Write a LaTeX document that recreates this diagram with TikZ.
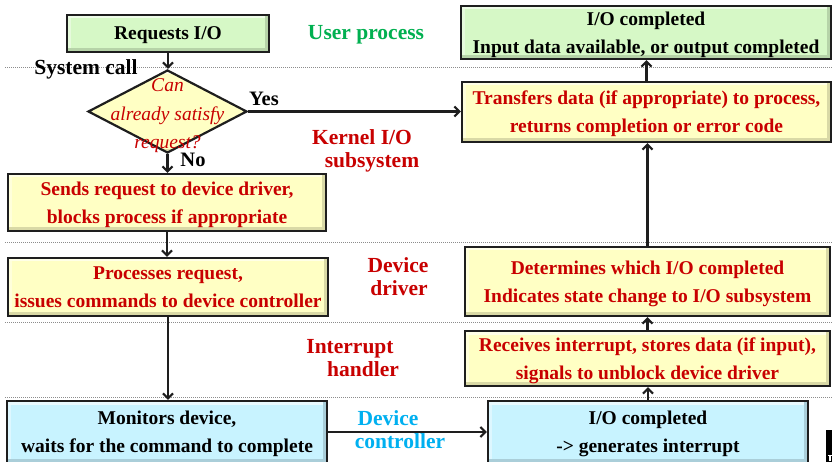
\documentclass[tikz,border=0pt]{standalone}
\usepackage{fontspec}
\setmainfont{Liberation Serif}
\usetikzlibrary{arrows.meta,shapes.geometric}

\definecolor{boxgreen}{HTML}{D6F8C6}
\definecolor{boxyellow}{HTML}{FFFFC4}
\definecolor{boxcyan}{HTML}{C8F3FF}
\definecolor{txtred}{HTML}{C80000}
\definecolor{txtgreen}{HTML}{00B050}
\definecolor{txtblue}{HTML}{00B0F0}
\definecolor{edge}{HTML}{1E1E1E}
\definecolor{rule}{HTML}{8C8C8C}

\tikzset{
  bevel/.style={path picture={
    \fill[black,opacity=.15] (path picture bounding box.south west) rectangle ([yshift=4pt]path picture bounding box.south east);
    \fill[black,opacity=.15] ([xshift=-4pt,yshift=4pt]path picture bounding box.south east) rectangle (path picture bounding box.north east);
    \fill[white,opacity=.6] ([yshift=-3.5pt]path picture bounding box.north west) rectangle ([xshift=-4pt]path picture bounding box.north east);
    \fill[white,opacity=.4] ([yshift=4pt]path picture bounding box.south west) rectangle ([xshift=3.5pt,yshift=-3.5pt]path picture bounding box.north west);
  }},
  box/.style={draw=edge, line width=2.2pt, fill=#1, bevel, inner sep=0pt, align=center,
    text depth=0pt, font=\fontsize{19.5}{28}\selectfont\bfseries},
  greenbox/.style={box=boxgreen, text=black},
  yellowbox/.style={box=boxyellow, text=txtred},
  cyanbox/.style={box=boxcyan, text=black},
  lab/.style={inner sep=0pt, text depth=0pt, font=\fontsize{21.5}{23}\selectfont\bfseries},
  small/.style={inner sep=0pt, text depth=0pt, font=\fontsize{20.5}{23}\selectfont\bfseries},
  arr/.style={draw=edge, line width=2.2pt, -{Straight Barb[length=5pt,width=10pt,line width=2.2pt]}},
  layer/.style={draw=rule, line width=0.9pt, dash pattern=on 1pt off 1pt},
}

\begin{document}
\begin{tikzpicture}[x=1pt, y=-1pt]
  \useasboundingbox[fill=white] (0,0) rectangle (832,462);

  % layer separators
  \coordinate (l1a) at (5,67);   \coordinate (l1b) at (832,67);
  \coordinate (l2a) at (5,242);  \coordinate (l2b) at (832,242);
  \coordinate (l3a) at (5,322);  \coordinate (l3b) at (832,322);
  \coordinate (l4a) at (5,397);  \coordinate (l4b) at (832,397);
  \draw[layer] (l1a) -- (l1b);
  \draw[layer] (l2a) -- (l2b);
  \draw[layer] (l3a) -- (l3b);
  \draw[layer] (l4a) -- (l4b);

  % left column: request path
  \node[greenbox, minimum width=202pt, minimum height=37pt] (req) at (168,33.5) {Requests I/O};
  \node[diamond, draw=edge, line width=2.2pt, fill=boxyellow, bevel, inner sep=0pt,
        minimum width=159pt, minimum height=83pt] (dec) at (167.5,111.5) {};
  \node[inner sep=0pt, align=center, text depth=0pt, text=txtred,
        font=\fontsize{19.5}{28.5}\selectfont\itshape] (dectext) at (167.5,114) {Can\\already satisfy\\request?};
  \node[yellowbox, minimum width=318pt, minimum height=57pt] (send) at (167,202.5)
    {Sends request to device driver,\\blocks process if appropriate};
  \node[yellowbox, minimum width=320pt, minimum height=58pt] (proc) at (168,287)
    {Processes request,\\issues commands to device controller};
  \node[cyanbox, minimum width=320pt, minimum height=62pt] (mon) at (167,432)
    {Monitors device,\\waits for the command to complete};

  % right column: completion path
  \node[cyanbox, minimum width=320pt, minimum height=62pt] (iobot) at (648,432)
    {I/O completed\\-> generates interrupt};
  \node[yellowbox, minimum width=365pt, minimum height=55pt] (recv) at (647.5,358.5)
    {Receives interrupt, stores data (if input),\\signals to unblock device driver};
  \node[yellowbox, minimum width=365pt, minimum height=69pt] (det) at (647.5,281.5)
    {Determines which I/O completed\\Indicates state change to I/O subsystem};
  \node[yellowbox, minimum width=369pt, minimum height=60pt] (xfer) at (646.5,112)
    {Transfers data (if appropriate) to process,\\returns completion or error code};
  \node[greenbox, minimum width=370pt, minimum height=53pt] (iotop) at (646,32.5)
    {I/O completed\\Input data available, or output completed};

  % layer labels
  \node[lab, text=txtgreen] (lUser) at (366,32) {User process};
  \node[lab, text=black] (lSys) at (86,67) {System call};
  \node[small, text=black] (lYes) at (264,99) {Yes};
  \node[small, text=black] (lNo) at (193,160) {No};
  \node[lab, text=txtred] (lKern1) at (362,137) {Kernel I/O};
  \node[lab, text=txtred] (lKern2) at (372,160) {subsystem};
  \node[lab, text=txtred] (lDrv1) at (398,265) {Device};
  \node[lab, text=txtred] (lDrv2) at (399,288) {driver};
  \node[lab, text=txtred] (lInt1) at (350,346) {Interrupt};
  \node[lab, text=txtred] (lInt2) at (363,369) {handler};
  \node[lab, text=txtblue] (lCtl1) at (388,418) {Device};
  \node[lab, text=txtblue] (lCtl2) at (400,441) {controller};

  % connectors
  \draw[arr] (req.south) -- (req.south |- dec.north);
  \draw[arr] (dec.south) -- (dec.south |- send.north);
  \draw[arr] (dec.east) -- (dec.east -| xfer.west);
  \draw[arr] (send.south) -- (send.south |- proc.north);
  \draw[arr] (proc.south) -- (proc.south |- mon.north);
  \draw[arr] (mon.east) -- (mon.east -| iobot.west);
  \draw[arr] (iobot.north) -- (iobot.north |- recv.south);
  \draw[arr] (recv.north) -- (recv.north |- det.south);
  \draw[arr] (det.north) -- (det.north |- xfer.south);
  \draw[arr] (xfer.north) -- (xfer.north |- iotop.south);

  % clipped dark tab at the lower right edge
  \fill[black] (826,430) rectangle (832,462);
  \fill[white] (828,455) rectangle (832,456.2);
  \fill[white] (829.3,455) rectangle (830.5,461);
\end{tikzpicture}
\end{document}
